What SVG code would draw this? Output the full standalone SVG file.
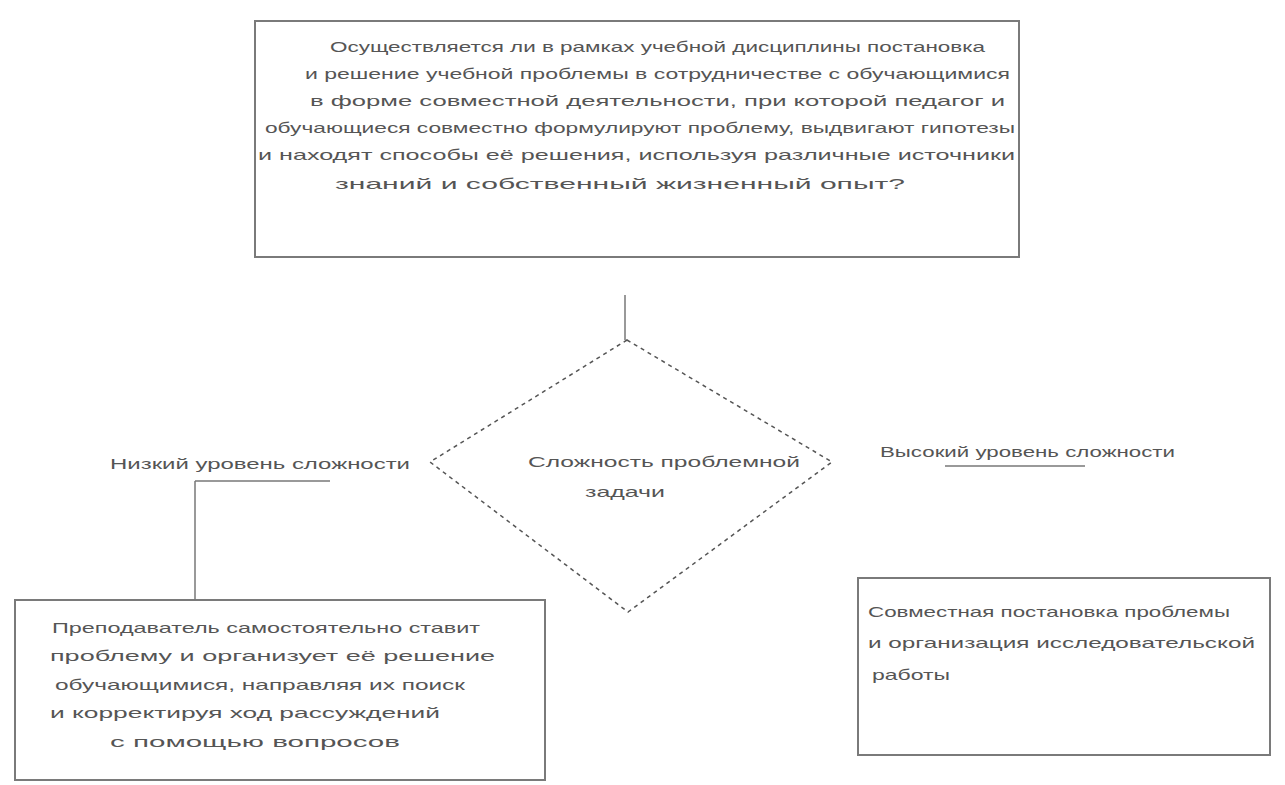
<svg xmlns="http://www.w3.org/2000/svg" width="1285" height="785" viewBox="0 0 1285 785">
<style>
.box{fill:none;stroke:#7a7a7a;stroke-width:2}
.dia{fill:none;stroke:#555;stroke-width:1.5;stroke-dasharray:4 4}
.ln{stroke:#777;stroke-width:1.5;fill:none}
.t{font-family:"Liberation Sans",Arial,sans-serif;font-size:15px;fill:#555}
</style>
<rect width="1285" height="785" fill="#fff"/>
<g id="node-top">
<rect class="box" x="255" y="21" width="764" height="236"/>
<text class="t" x="330" y="52" textLength="655" lengthAdjust="spacingAndGlyphs">Осуществляется ли в рамках учебной дисциплины постановка</text>
<text class="t" x="305" y="79" textLength="705" lengthAdjust="spacingAndGlyphs">и решение учебной проблемы в сотрудничестве с обучающимися</text>
<text class="t" x="310" y="106" textLength="695" lengthAdjust="spacingAndGlyphs">в форме совместной деятельности, при которой педагог и</text>
<text class="t" x="265" y="133" textLength="750" lengthAdjust="spacingAndGlyphs">обучающиеся совместно формулируют проблему, выдвигают гипотезы</text>
<text class="t" x="258" y="160" textLength="757" lengthAdjust="spacingAndGlyphs">и находят способы её решения, используя различные источники</text>
<text class="t" x="335" y="189" textLength="570" lengthAdjust="spacingAndGlyphs">знаний и собственный жизненный опыт?</text>
</g>
<g id="node-decision">
<polygon class="dia" points="627,340 832,462 628,612 430,462"/>
<text class="t" x="528" y="467" textLength="272" lengthAdjust="spacingAndGlyphs">Сложность проблемной</text>
<text class="t" x="585" y="497" textLength="80" lengthAdjust="spacingAndGlyphs">задачи</text>
</g>
<g id="node-left-label">
<text class="t" x="110" y="469" textLength="300" lengthAdjust="spacingAndGlyphs">Низкий уровень сложности</text>
</g>
<g id="node-right-label">
<text class="t" x="880" y="457" textLength="295" lengthAdjust="spacingAndGlyphs">Высокий уровень сложности</text>
</g>
<g id="node-bottom-left">
<rect class="box" x="15" y="600" width="530" height="180"/>
<text class="t" x="52" y="633" textLength="428" lengthAdjust="spacingAndGlyphs">Преподаватель самостоятельно ставит</text>
<text class="t" x="50" y="661" textLength="445" lengthAdjust="spacingAndGlyphs">проблему и организует её решение</text>
<text class="t" x="55" y="690" textLength="410" lengthAdjust="spacingAndGlyphs">обучающимися, направляя их поиск</text>
<text class="t" x="50" y="718" textLength="390" lengthAdjust="spacingAndGlyphs">и корректируя ход рассуждений</text>
<text class="t" x="110" y="747" textLength="290" lengthAdjust="spacingAndGlyphs">с помощью вопросов</text>
</g>
<g id="node-bottom-right">
<rect class="box" x="858" y="578" width="412" height="177"/>
<text class="t" x="868" y="617" textLength="362" lengthAdjust="spacingAndGlyphs">Совместная постановка проблемы</text>
<text class="t" x="868" y="648" textLength="387" lengthAdjust="spacingAndGlyphs">и организация исследовательской</text>
<text class="t" x="872" y="680" textLength="78" lengthAdjust="spacingAndGlyphs">работы</text>
</g>
<g id="connectors">
<line class="ln" x1="625" y1="295" x2="625" y2="340"/>
<line class="ln" x1="195" y1="481" x2="330" y2="481"/>
<line class="ln" x1="195" y1="481" x2="195" y2="600"/>
<line class="ln" x1="945" y1="466" x2="1085" y2="466"/>
</g>
</svg>
